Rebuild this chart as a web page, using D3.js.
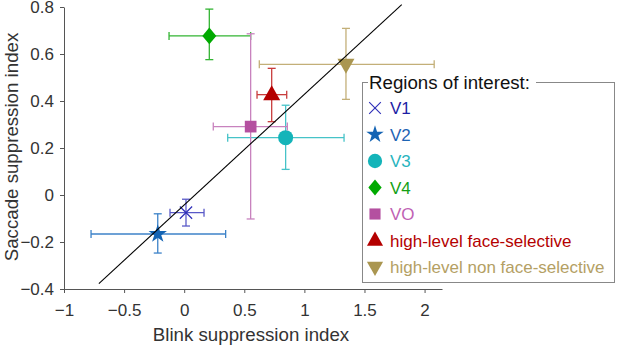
<!DOCTYPE html>
<html><head><meta charset="utf-8">
<script src="https://cdn.jsdelivr.net/npm/d3@7"></script>
<style>body{margin:0;background:#fff}svg{display:block;font-family:Arial,"Liberation Sans",sans-serif}</style>
</head><body>
<svg id="c" width="617" height="349"></svg>
<script>
const regions = ["V1","V2","V3","V4","VO","high-level face-selective","high-level non face-selective"];
const blink = [0.015,-0.22,0.844,0.209,0.553,0.728,1.346];
const blinkLo = [-0.118,-0.775,0.362,-0.126,0.242,0.606,0.625];
const blinkHi = [0.165,0.345,1.33,0.553,0.858,0.853,2.08];
const saccade = [-0.075,-0.166,0.244,0.677,0.291,0.427,0.556];
const saccadeLo = [-0.132,-0.247,0.109,0.576,-0.102,0.312,0.407];
const saccadeHi = [-0.018,-0.08,0.382,0.791,0.686,0.539,0.709];
const markers = ["x","star","circle","diamond","square","triangle","triangleDown"];
const markerColors = ["#3030b8","#1464b4","#14b4b9","#00aa00","#b450a0","#b40000","#aa9650"];
const barColors = ["#5a5ac8","#3c82c8","#46c3c8","#32b432","#c882be","#c83c3c","#c3af78"];
const textColors = ["#1e1ea5","#1e64b4","#28b4be","#14a014","#c062b4","#b40000","#b4a064"];
const xTicks = [-1,-0.5,0,0.5,1,1.5,2];
const yTicks = [-0.4,-0.2,0,0.2,0.4,0.6,0.8];
const diagX = [-0.71,1.81];
const diagY = [-0.377,0.81];

const svg = d3.select("#c");
const x = d3.scaleLinear().domain([-1,2.145]).range([64,442]);
const y = d3.scaleLinear().domain([-0.4,0.8]).range([289,7]);

const ax = svg.append("g").attr("transform","translate(0,289)")
  .call(d3.axisBottom(x).tickValues(xTicks).tickSize(4).tickSizeOuter(0).tickFormat(d=>d3.format("")(d)));
const ay = svg.append("g").attr("transform","translate(64,0)")
  .call(d3.axisLeft(y).tickValues(yTicks).tickSize(4).tickSizeOuter(0).tickFormat(d=>d3.format("")(d)));
[ax,ay].forEach(g=>{
  g.select(".domain").attr("stroke","#555");
  g.selectAll(".tick line").attr("stroke","#555");
  g.selectAll(".tick text").attr("fill","#333").style("font-size","17px").style("font-family","Arial,'Liberation Sans',sans-serif");
});
ax.selectAll(".tick text").attr("y",27).attr("dy",0);
ay.selectAll(".tick text").attr("x",-10).attr("dy","0.35em");

svg.append("text").attr("x",251).attr("y",341).attr("text-anchor","middle")
  .attr("fill","#333").style("font-size","18.7px").text("Blink suppression index");
svg.append("text").attr("transform","translate(18,147) rotate(-90)").attr("text-anchor","middle")
  .attr("fill","#333").style("font-size","18.7px").text("Saccade suppression index");

function poly(pts){ return {draw(ctx){ ctx.moveTo(pts[0][0],pts[0][1]); pts.slice(1).forEach(p=>ctx.lineTo(p[0],p[1])); ctx.closePath(); }}; }
const symMap = {
  x: d3.symbolTimes,
  star: d3.symbolStar,
  circle: d3.symbolCircle,
  square: d3.symbolSquare,
  diamond: poly([[0,-8.3],[7,0],[0,8.3],[-7,0]]),
  triangle: poly([[0,-9.5],[8.5,5.5],[-8.5,5.5]]),
  triangleDown: poly([[0,9.5],[8.5,-5.5],[-8.5,-5.5]])
};
const symSize = {x:100, star:105, circle:177, diamond:1, square:137, triangle:1, triangleDown:1};
function drawMarker(g, i, cx, cy, scale){
  const m = markers[i];
  const p = d3.symbol().type(symMap[m]).size(symSize[m])();
  const el = g.append("path").attr("d",p).attr("transform",`translate(${cx},${cy}) scale(${scale})`);
  if (m==="x") el.attr("fill","none").attr("stroke",markerColors[i]).attr("stroke-width",1.2);
  else el.attr("fill",markerColors[i]);
}

const cap = 4;
const pts = svg.append("g");
regions.forEach((r,i)=>{
  const g = pts.append("g");
  const c = barColors[i];
  const cx = x(blink[i]), cy = y(saccade[i]);
  g.append("line").attr("x1",x(blinkLo[i])).attr("x2",x(blinkHi[i])).attr("y1",cy).attr("y2",cy).attr("stroke",c).attr("stroke-width",1.3);
  [blinkLo[i],blinkHi[i]].forEach(v=>g.append("line").attr("x1",x(v)).attr("x2",x(v)).attr("y1",cy-cap).attr("y2",cy+cap).attr("stroke",c).attr("stroke-width",1.3));
  g.append("line").attr("x1",cx).attr("x2",cx).attr("y1",y(saccadeLo[i])).attr("y2",y(saccadeHi[i])).attr("stroke",c).attr("stroke-width",1.3);
  [saccadeLo[i],saccadeHi[i]].forEach(v=>g.append("line").attr("x1",cx-cap).attr("x2",cx+cap).attr("y1",y(v)).attr("y2",y(v)).attr("stroke",c).attr("stroke-width",1.3));
  drawMarker(g,i,cx,cy,1);
});

svg.append("line").attr("x1",x(diagX[0])).attr("y1",y(diagY[0])).attr("x2",x(diagX[1])).attr("y2",y(diagY[1]))
  .attr("stroke","#000").attr("stroke-width",1.1);

// legend
const lg = svg.append("g");
lg.append("rect").attr("x",362.5).attr("y",82.5).attr("width",252).attr("height",200).attr("fill","#fff").attr("stroke","#888").attr("stroke-width",1);
lg.append("rect").attr("x",368).attr("y",76).attr("width",168).attr("height",14).attr("fill","#fff");
lg.append("text").attr("x",369).attr("y",89).attr("fill","#111").style("font-size","18.7px").text("Regions of interest:");
regions.forEach((r,i)=>{
  const yy = 108 + i*26.5;
  drawMarker(lg,i,375,yy,0.95);
  lg.append("text").attr("x",390).attr("y",yy+6).attr("fill",textColors[i]).style("font-size","17px").text(r);
});
</script>
</body></html>
